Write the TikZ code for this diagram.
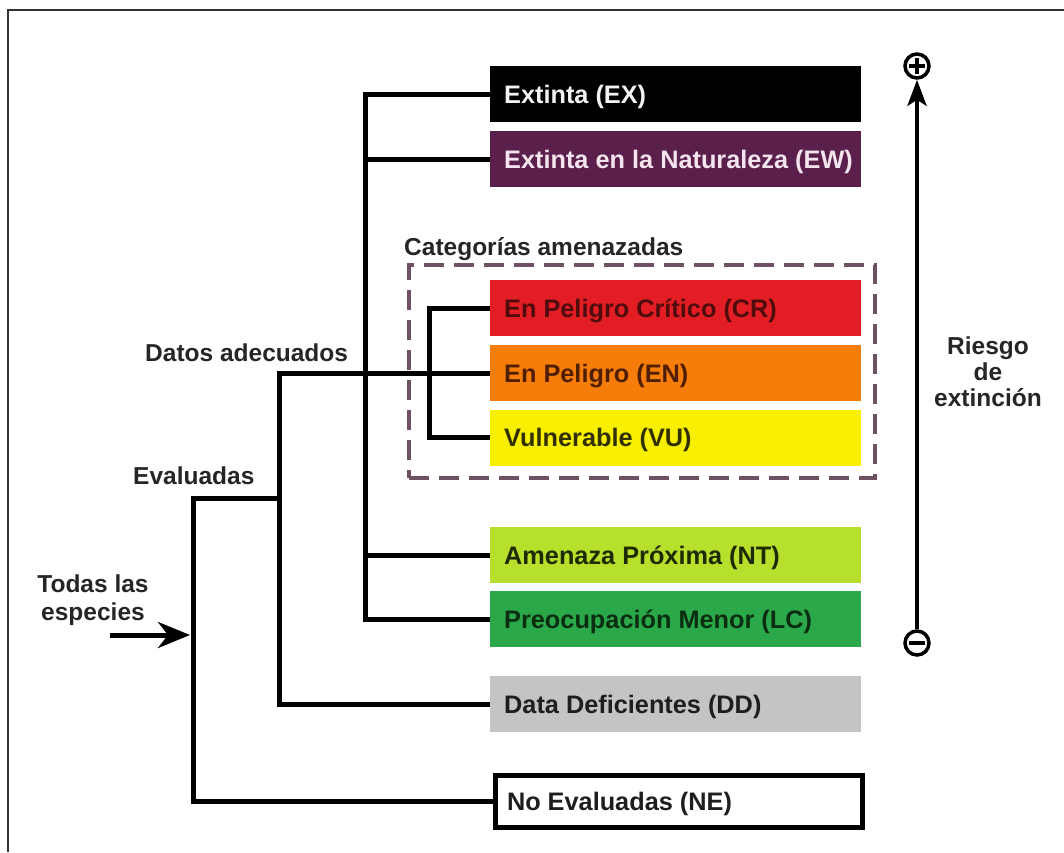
\documentclass[tikz,border=0pt]{standalone}
\usepackage{fontspec}
\setmainfont{Liberation Sans}
\usetikzlibrary{arrows.meta}
\definecolor{cEW}{RGB}{91,31,75}
\definecolor{cCR}{RGB}{226,30,36}
\definecolor{cEN}{RGB}{247,125,10}
\definecolor{cVU}{RGB}{248,240,0}
\definecolor{cNT}{RGB}{182,224,44}
\definecolor{cLC}{RGB}{42,168,74}
\definecolor{cDD}{RGB}{196,196,196}
\definecolor{cDash}{RGB}{110,82,100}
\definecolor{tEX}{RGB}{242,242,242}
\definecolor{tEW}{RGB}{244,228,238}
\definecolor{tCR}{RGB}{80,12,12}
\definecolor{tEN}{RGB}{80,30,0}
\definecolor{tVU}{RGB}{50,48,0}
\definecolor{tNT}{RGB}{30,42,0}
\definecolor{tLC}{RGB}{12,46,16}
\definecolor{tDD}{RGB}{30,30,30}
\newcommand{\lbox}[1]{\makebox[343pt][l]{#1}}
\begin{document}
\begin{tikzpicture}[x=1pt,y=-1pt,
  font=\bfseries\fontsize{24.5}{28}\selectfont,
  cat/.style={anchor=west, minimum width=371pt, minimum height=56pt,
    inner xsep=13pt, inner ysep=0pt,
    font=\bfseries\fontsize{25.3}{28}\selectfont,
    text height=18pt, text depth=0pt},
  conn/.style={line width=5pt, line join=miter},
  lbl/.style={anchor=base west, inner sep=0pt, text=black!85},
  sign/.style={circle, draw, line width=3.5pt, minimum size=24pt, inner sep=0pt}
]
\useasboundingbox (0,0) rectangle (1064,852);
\draw[line width=1.5pt, black!80] (8,852) -- (8,10) -- (1064,10);

% category boxes
\node[cat, fill=black, text=tEX] (ex) at (490,94) {\lbox{Extinta (EX)}};
\node[cat, fill=cEW, text=tEW] (ew) at (490,159) {\lbox{Extinta en la Naturaleza (EW)}};
\node[cat, fill=cCR, text=tCR] (cr) at (490,308) {\lbox{En Peligro Crítico (CR)}};
\node[cat, fill=cEN, text=tEN] (en) at (490,373) {\lbox{En Peligro (EN)}};
\node[cat, fill=cVU, text=tVU] (vu) at (490,437.5) {\lbox{Vulnerable (VU)}};
\node[cat, fill=cNT, text=tNT] (nt) at (490,555) {\lbox{Amenaza Próxima (NT)}};
\node[cat, fill=cLC, text=tLC] (lc) at (490,619) {\lbox{Preocupación Menor (LC)}};
\node[cat, fill=cDD, text=tDD] (dd) at (490,704) {\lbox{Data Deficientes (DD)}};
\node[cat, draw=black, line width=5pt, fill=white, text=tDD,
  minimum width=367pt, minimum height=52pt, inner xsep=12pt]
  (ne) at (492.5,801.5) {\lbox{No Evaluadas (NE)}};

% threatened group frame
\node[draw=cDash, line width=4pt, dash pattern=on 20pt off 10pt,
  minimum width=466pt, minimum height=213pt, inner sep=0pt] (thr) at (642,371.5) {};
\node[lbl] (thrl) at (404,255) {Categorías amenazadas};

% labels
\node[lbl] (datos) at (145,361) {Datos adecuados};
\node[lbl] (evall) at (133,484) {Evaluadas};
\node[anchor=base, align=center, inner sep=0pt, text=black!85] (todas) at (93,620) {Todas las\\especies};

% junction coordinates
\coordinate (jA) at (365,0);
\coordinate (jB) at (429,0);
\coordinate (jC) at (279,0);
\coordinate (jD) at (193,0);
\coordinate (evj) at (279,498);
\coordinate (start) at (110,635);
\coordinate (entry) at (190,635);

% connectors
\draw[conn] (ex.west) -- (ex.west -| jA) -- (lc.west -| jA) -- (lc.west);
\draw[conn] (ew.west) -- (ew.west -| jA);
\draw[conn] (nt.west) -- (nt.west -| jA);
\draw[conn] (cr.west) -- (cr.west -| jB) -- (vu.west -| jB) -- (vu.west);
\draw[conn] (en.west) -- (en.west -| jC) -- (dd.west -| jC) -- (dd.west);
\draw[conn] (evj) -- (evj -| jD) -- (ne.west -| jD) -- (ne.west);
\draw[line width=5pt, -{Stealth[length=32pt,width=26pt,inset=10pt]}] (start) -- (entry);

% risk axis
\node[sign] (plus) at (917,66) {};
\node[sign] (minus) at (917,643) {};
\draw[line width=4pt] ([xshift=-8pt]plus.center) -- ([xshift=8pt]plus.center)
  ([yshift=-8pt]plus.center) -- ([yshift=8pt]plus.center);
\draw[line width=4pt] ([xshift=-8pt]minus.center) -- ([xshift=8pt]minus.center);
\draw[line width=4.5pt, -{Stealth[length=26pt,width=19pt,inset=6pt]}] (minus.north) -- (plus.south);
\node[anchor=base, align=center, inner sep=0pt, text=black!85,
  font=\bfseries\fontsize{24.5}{26}\selectfont] (riesgo) at (988,406) {Riesgo\\de\\extinción};
\end{tikzpicture}
\end{document}
